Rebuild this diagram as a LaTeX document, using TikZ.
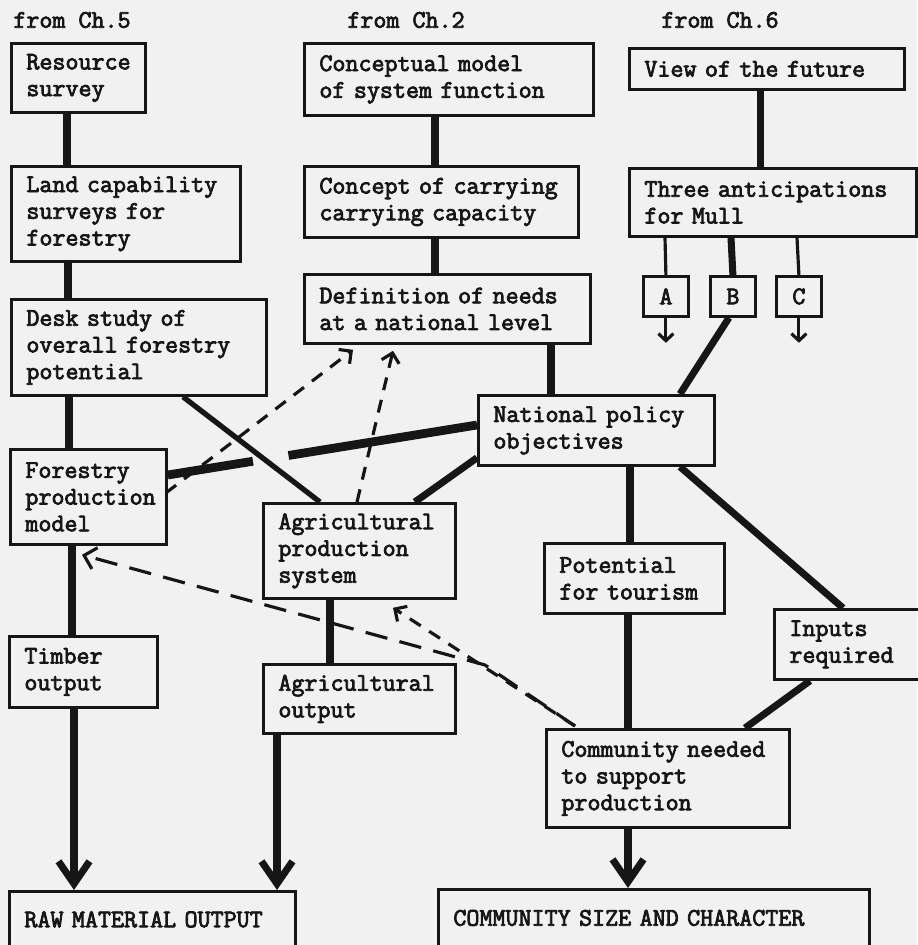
\documentclass[tikz,border=0pt]{standalone}
\usepackage{fontspec}
\setmonofont{Latin Modern Mono}[AutoFakeBold=3]
\usetikzlibrary{arrows.meta,calc}
\definecolor{paper}{RGB}{241,241,241}
\definecolor{ink}{RGB}{22,22,22}
\newcommand\keep[1]{\mbox{#1}}

\tikzset{
  txt/.style={font=\ttfamily\bfseries\fontsize{14.4}{15.2}\selectfont, text=ink},
  box/.style={txt, draw=ink, line width=1.6pt, anchor=north west, align=left,
    inner xsep=0.3cm, inner ysep=0pt},
  wh/.style n args={2}{text width=#1*0.02cm-0.6cm, minimum height=#2*0.02cm},
  pick/.style={txt, draw=ink, line width=1.6pt, anchor=north west,
    minimum width=0.9cm, minimum height=0.8cm, inner sep=0pt},
  lbl/.style={txt, inner sep=0pt},
  heavy/.style={draw=ink, line width=4pt},
  heavier/.style={draw=ink, line width=5pt},
  light/.style={draw=ink, line width=1.8pt},
  flow/.style={heavy, -{Straight Barb[length=0.45cm, width=0.62cm]}},
  stub/.style={light, -{Straight Barb[length=0.14cm, width=0.3cm]}},
  hint/.style={draw=ink, line width=1.8pt, dash pattern=on 0.26cm off 0.2cm,
    -{Straight Barb[length=0.18cm, width=0.36cm]}},
  longhint/.style={hint, dash pattern=on 0.45cm off 0.25cm,
    -{Straight Barb[length=0.22cm, width=0.44cm]}}
}

\begin{document}
\begin{tikzpicture}[x=0.02cm, y=-0.02cm]
  \path[use as bounding box, fill=paper] (0,0) rectangle (917,945);

  % where the inputs come from
  \node[lbl] (ch5) at (72,20) {from Ch.5};
  \node[lbl] (ch2) at (406,20) {from Ch.2};
  \node[lbl] (ch6) at (720,20) {from Ch.6};

  % forestry side
  \node[box, wh={134}{69}] (res) at (10,42) {Resource\\survey};
  \node[box, wh={229}{95}] (land) at (10,165) {\keep{Land capability}\\surveys for\\forestry};
  \node[box, wh={255}{96}] (desk) at (10,298) {Desk study of\\\keep{overall forestry}\\potential};
  \node[box, wh={156}{95}] (forest) at (9,448) {Forestry\\production\\model};
  \node[box, wh={148}{71}] (timber) at (8,635) {Timber\\output};
  \node[box, wh={286}{56}] (raw) at (8,890) {\keep{RAW MATERIAL OUTPUT}};

  % needs and agriculture
  \node[box, wh={289}{72}] (concept) at (303,42) {Conceptual model\\\keep{of system function}};
  \node[box, wh={274}{71}] (carry) at (303,165) {\keep{Concept of carrying}\\\keep{carrying capacity}};
  \node[box, wh={286}{69}] (needs) at (303,273) {\keep{Definition of needs}\\\keep{at a national level}};
  \node[box, wh={192}{95}] (agprod) at (262,502) {Agricultural\\production\\system};
  \node[box, wh={192}{69}] (agout) at (262,663) {Agricultural\\output};

  % future and policy
  \node[box, wh={275}{41}] (future) at (628,47) {\keep{View of the future}};
  \node[box, wh={287}{68}] (three) at (628,167) {\keep{Three anticipations}\\for Mull};
  \node[pick] (optA) at (642,275) {A};
  \node[pick] (optB) at (709,275) {B};
  \node[pick] (optC) at (775,275) {C};
  \node[box, wh={236}{70}] (policy) at (477,394) {\keep{National policy}\\objectives};
  \node[box, wh={180}{70}] (tour) at (543,542) {Potential\\\keep{for tourism}};
  \node[box, wh={146}{70}] (inputs) at (773,608) {Inputs\\required};
  \node[box, wh={243}{98}] (need) at (545,728) {\keep{Community needed}\\to support\\production};
  \node[box, wh={431}{57}] (size) at (437,888) {\keep{COMMUNITY SIZE AND CHARACTER}};

  % solid links
  \draw[heavy] ($(res.south west)+(57,0)$) -- ($(land.north west)+(57,0)$);
  \draw[heavy] ($(land.south west)+(58,0)$) -- ($(desk.north west)+(58,0)$);
  \draw[heavy] ($(desk.south west)+(59,0)$) -- ($(forest.north west)+(60,0)$);
  \draw[heavy] ($(forest.south west)+(63,0)$) -- ($(timber.north west)+(64,0)$);
  \draw[flow] ($(timber.south west)+(66,0)$) -- ($(raw.north west)+(66,0)$);
  \draw[heavy] ($(concept.south west)+(132,0)$) -- ($(carry.north west)+(132,0)$);
  \draw[heavy] ($(carry.south west)+(132,0)$) -- ($(needs.north west)+(132,0)$);
  \draw[heavy] ($(needs.south west)+(248,0)$) -- ($(policy.north west)+(74,0)$);
  \draw[heavy] ($(agprod.south west)+(68,0)$) -- ($(agout.north west)+(68,0)$);
  \draw[flow] ($(agout.south west)+(15,0)$) -- ($(raw.north west)+(269,0)$);
  \draw[heavy] ($(future.south west)+(132,0)$) -- ($(three.north west)+(132,0)$);
  \draw[light] ($(three.south west)+(37,0)$) -- (optA.north);
  \draw[heavy] ($(three.south west)+(103,0)$) -- (optB.north);
  \draw[light] ($(three.south west)+(169,0)$) -- (optC.north);
  \draw[stub] (optA.south) -- ++(0,25);
  \draw[stub] (optC.south) -- ++(0,25);
  \draw[heavy] ($(optB.south)+(-4,0)$) -- ($(policy.north west)+(203,0)$);
  \draw[heavy] ($(policy.south west)+(153,0)$) -- ($(tour.north west)+(87,0)$);
  \draw[heavy] ($(policy.south west)+(203,0)$) -- ($(inputs.north west)+(70,0)$);
  \draw[heavy] ($(tour.south west)+(85,0)$) -- ($(need.north west)+(83,0)$);
  \draw[heavy] ($(inputs.south west)+(37,0)$) -- ($(need.north west)+(200,0)$);
  \draw[flow] ($(need.south west)+(83,0)$) -- ($(size.north west)+(191,0)$);
  \draw[heavy] ($(policy.south west)+(0,-9)$) -- ($(agprod.north east)+(-42,0)$);
  % broken where it crosses the desk study link
  \draw[heavier, dash pattern=on 3.82cm off 0.72cm on 4cm]
    ($(policy.north west)+(0,31)$) -- ($(forest.north east)+(0,27)$);
  \draw[draw=ink, line width=3pt] ($(desk.south west)+(173,0)$) -- ($(agprod.north west)+(58,0)$);

  % dashed feedback
  \draw[hint] ($(forest.north east)+(-2,45)$) -- ($(needs.south west)+(50,5)$);
  \draw[hint] ($(agprod.north west)+(95,0)$) -- ($(needs.south west)+(90,6)$);
  \draw[hint] ($(need.north west)+(30,-2)$) -- ($(agprod.south west)+(131,8)$);
  \coordinate (dashjoin) at (485,665);
  \draw[longhint] ($(need.north west)+(30,-2)$) -- (dashjoin) -- ($(forest.south west)+(73,9)$);
\end{tikzpicture}
\end{document}
